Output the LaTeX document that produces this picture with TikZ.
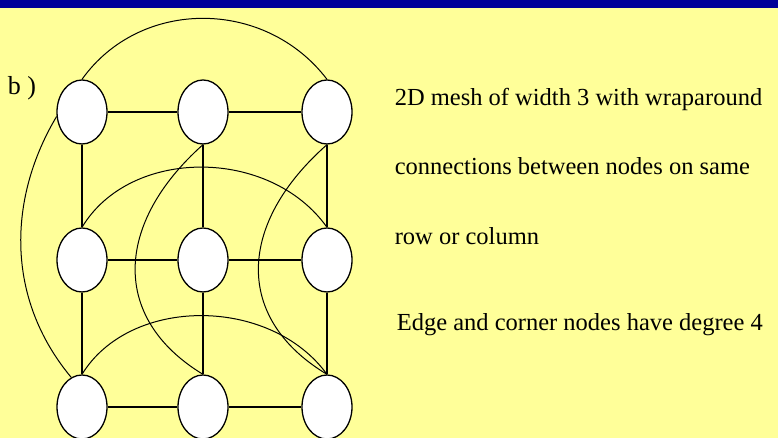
\documentclass[tikz,border=0pt]{standalone}
\usepackage{fontspec}
\setmainfont{Liberation Serif}
\usepackage{tikz}
\usetikzlibrary{calc}
\usetikzlibrary{shapes}
\usetikzlibrary{positioning}
\definecolor{bgyellow}{RGB}{255,255,153}
\definecolor{barblue}{RGB}{0,0,153}

\begin{document}
\begin{tikzpicture}[x=1pt,y=1pt,line width=1.6pt,
	  mesh node/.style={ellipse,draw,fill=white,line width=1.3pt,minimum width=50pt,minimum height=64pt,inner sep=0pt},
	  wrap/.style={line width=1pt},
	  note/.style={anchor=west,inner sep=0pt,font=\fontsize{24.5}{27}\selectfont}]

	  \useasboundingbox (0,0) rectangle (778,438);
	  \fill[bgyellow] (0,0) rectangle (778,438);
	  \fill[barblue] (0,430) rectangle (778,438);

	  \node[mesh node] (n11) at (82,326) {};
	  \node[mesh node] (n12) at ($ (n11) + (121,0) $) {};
	  \node[mesh node] (n13) at ($ (n12) + (124,0) $) {};
	  \node[mesh node] (n21) at ($ (n11) + (0,-148) $) {};
	  \node[mesh node] (n22) at ($ (n21) + (121,0) $) {};
	  \node[mesh node] (n23) at ($ (n22) + (124,0) $) {};
	  \node[mesh node] (n31) at ($ (n21) + (0,-147) $) {};
	  \node[mesh node] (n32) at ($ (n31) + (121,0) $) {};
	  \node[mesh node] (n33) at ($ (n32) + (124,0) $) {};

	  \node[font=\fontsize{26}{28}\selectfont] (tag) at (22,350) {b )};
	  \node[note] (desc1) at (394,339) {2D mesh of width 3 with wraparound};
	  \node[note] (desc2) at (394,272) {connections between nodes on same};
	  \node[note] (desc3) at (394,202) {row or column};
	  \node[note] (desc4) at (396,113) {Edge and corner nodes have degree 4};

	  \path
	  	(n11) edge (n12)
	  	(n12) edge (n13)
	  	(n21) edge (n22)
	  	(n22) edge (n23)
	  	(n31) edge (n32)
	  	(n32) edge (n33)
	  	(n11) edge (n21)
	  	(n21) edge (n31)
	  	(n12) edge (n22)
	  	(n22) edge (n32)
	  	(n13) edge (n23)
	  	(n23) edge (n33);

	  % wraparound links
	  \draw[wrap] (n11.north) .. controls (140,440) and (265,440) .. (n13.north);
	  \draw[wrap] (n21.north) .. controls (130,291) and (270,291) .. (n23.north);
	  \draw[wrap] (n31.north) .. controls (130,142) and (270,142) .. (n33.north);
	  \draw[wrap] (n11.190) .. controls (8,240) and (5,140) .. (n31.110);
	  \draw[wrap] (n12.south) .. controls (115,215) and (110,120) .. (n32.north);
	  \draw[wrap] (n13.south) .. controls (238,215) and (233,120) .. (n33.north);
\end{tikzpicture}
\end{document}
